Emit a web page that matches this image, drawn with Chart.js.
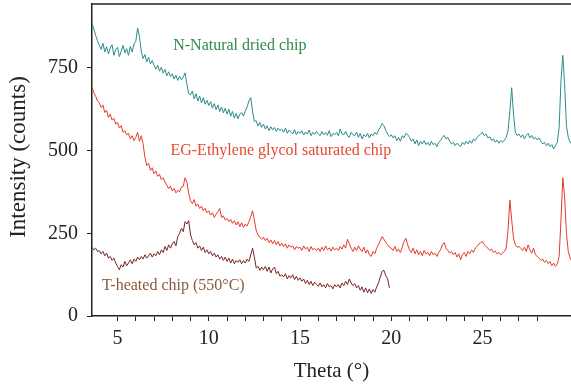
<!DOCTYPE html>
<html>
<head>
<meta charset="utf-8">
<script src="https://cdn.jsdelivr.net/npm/chart.js@4/dist/chart.umd.min.js"></script>
<style>
  html, body { margin: 0; padding: 0; background: #ffffff; }
  canvas { display: block; }
</style>
</head>
<body>
<canvas id="xrd" width="571" height="385"></canvas>
<script>
// Scan grid: 2θ from 3.6° in 0.1° steps
const thetaStart = 3.6;
const thetaStep = 0.1;

// N – natural, air-dried chip (counts)
const naturalDried = [
  885, 868, 848, 832,
  818, 806, 824, 798, 814, 792, 810, 820, 788, 805,
  812, 784, 800, 818, 795, 808, 788, 815, 798, 822,
  830, 870, 845, 800, 778, 790, 768, 782, 762, 772,
  758, 746, 758, 740, 752, 734, 745, 726, 738, 724,
  732, 716, 728, 712, 725, 714, 722, 735, 700, 672,
  668, 680, 656, 672, 650, 665, 644, 660, 640, 652,
  636, 648, 628, 642, 624, 638, 618, 632, 614, 628,
  610, 625, 604, 618, 598, 612, 596, 610, 615, 604,
  620, 632, 650, 660, 618, 588, 590, 574, 585, 570,
  580, 565, 575, 560, 572, 562, 570, 558, 568, 560,
  565, 555, 568, 552, 562, 556, 550, 563, 548, 558,
  552, 560, 547, 556, 550, 562, 545, 555, 549, 558,
  550, 545, 558, 548, 555, 546, 560, 542, 552, 548,
  555, 545, 565, 550, 548, 558, 545, 540, 555, 548,
  545, 556, 540, 552, 535, 548, 542, 552, 538, 550,
  545, 555, 548, 562, 570, 582, 575, 560, 550, 542,
  548, 538, 545, 530, 540, 528, 545, 538, 552, 548,
  540, 528, 535, 520, 532, 515, 528, 520, 530, 518,
  525, 515, 528, 518, 522, 512, 525, 530, 540, 546,
  535, 540, 528, 520, 525, 515, 522, 518, 512, 525,
  518, 528, 520, 530, 522, 535, 530, 540, 545, 550,
  555, 545, 550, 538, 542, 530, 535, 525, 532, 522,
  530, 525, 532, 540, 560, 620, 690, 610, 555, 545,
  550, 540, 548, 535, 545, 552, 538, 546, 535, 540,
  532, 538, 528, 520, 525, 515, 522, 512, 518, 505,
  515, 525, 570, 710, 788, 700, 575, 540, 525, 520
];

// EG – ethylene glycol saturated chip (counts)
const glycolSaturated = [
  690, 675, 664, 650,
  645, 630, 638, 615, 622, 600, 610, 592, 598, 580,
  585, 568, 575, 555, 560, 548, 552, 535, 545, 530,
  540, 555, 528, 545, 520, 480, 455, 462, 440, 448,
  430, 438, 422, 428, 412, 418, 405, 395, 385, 392,
  378, 385, 372, 380, 375, 390, 392, 418, 405, 370,
  348, 340, 352, 332, 338, 325, 332, 318, 325, 312,
  318, 305, 312, 298, 308, 315, 325, 298, 302, 290,
  295, 285, 292, 280, 288, 275, 285, 270, 282, 268,
  278, 272, 285, 300, 318, 290, 258, 245, 238, 232,
  238, 228, 235, 222, 230, 218, 228, 215, 225, 212,
  220, 210, 218, 205, 215, 208, 212, 200, 210, 205,
  208, 198, 212, 202, 208, 195, 210, 200, 205, 198,
  205, 195, 208, 198, 212, 200, 206, 196, 208, 200,
  205, 198, 210, 202, 215, 205, 232, 218, 205, 195,
  208, 198, 212, 202, 195, 208, 190, 200, 185, 180,
  195, 188, 205, 215, 228, 240, 232, 222, 215, 208,
  205, 198, 210, 195, 202, 192, 208, 225, 235, 215,
  200, 192, 205, 188, 200, 185, 195, 182, 198, 188,
  192, 182, 195, 185, 190, 180, 192, 200, 215, 222,
  205, 198, 190, 195, 185, 192, 178, 188, 170, 185,
  192, 180, 195, 188, 200, 192, 205, 210, 218, 222,
  225, 215, 210, 205, 198, 202, 192, 196, 188, 192,
  185, 190, 195, 205, 260, 350, 290, 235, 215, 208,
  210, 205, 198, 208, 195, 215, 200, 190, 205, 185,
  180, 175, 168, 172, 162, 168, 158, 165, 152, 160,
  150, 158, 180, 290, 418, 360, 250, 195, 175, 165
];

// T – chip heated to 550 °C (counts), scanned to 19.9°
const heated550 = [
  208, 200, 205, 195,
  198, 188, 195, 182, 190, 175, 180, 168, 175, 160,
  150, 140, 155, 148, 165, 152, 160, 170, 158, 172,
  165, 178, 170, 180, 172, 185, 175, 182, 190, 178,
  188, 182, 195, 185, 200, 192, 210, 198, 215, 205,
  218, 225, 212, 240, 250, 265, 255, 285, 278, 288,
  245, 228, 215, 222, 205, 212, 198, 208, 192, 200,
  188, 195, 182, 190, 178, 185, 172, 180, 168, 178,
  165, 175, 160, 172, 158, 168, 162, 170, 158, 168,
  160, 172, 165, 185, 205, 178, 145, 150, 138, 148,
  140, 150, 135, 148, 130, 142, 148, 128, 135, 120,
  125, 118, 128, 112, 122, 115, 125, 110, 120, 108,
  115, 105, 112, 98, 108, 95, 105, 92, 102, 95,
  90, 100, 88, 95, 85, 98, 88, 92, 82, 95,
  88, 95, 85, 100, 92, 105, 95, 112, 100, 92,
  98, 85, 92, 78, 88, 72, 85, 70, 82, 68,
  80, 72, 88, 100, 118, 135, 138, 122, 112, 85
];

// Axis ticks: every whole degree is marked, every 5° labelled
const thetaTickLabels = [5, 10, 15, 20, 25];
const intensityTicks = [0, 250, 500, 750];

// Series captions: text, colour and anchor (2θ, counts) of the text's left baseline
const seriesCaptions = [
  { text: 'N-Natural dried chip', color: '#2f8a4c', theta: 8.05, counts: 803 },
  { text: 'EG-Ethylene glycol saturated chip', color: '#e8482f', theta: 7.9, counts: 488 },
  { text: 'T-heated chip (550°C)', color: '#8a5a3a', theta: 4.15, counts: 79 }
];

function toPoints(values) {
  return values.map((v, i) => ({ x: +(thetaStart + i * thetaStep).toFixed(2), y: v }));
}

const serif = '"Liberation Serif", "DejaVu Serif", serif';
const axisColor = '#222222';

// Closing line along the top of the plot area
const topFrame = {
  id: 'topFrame',
  afterDraw(chart) {
    const { ctx, chartArea: a } = chart;
    ctx.save();
    ctx.strokeStyle = axisColor;
    ctx.lineWidth = 1.5;
    ctx.beginPath();
    ctx.moveTo(a.left, a.top);
    ctx.lineTo(a.right, a.top);
    ctx.stroke();
    ctx.restore();
  }
};

// Series captions plus the vertical axis title
const captions = {
  id: 'captions',
  afterDatasetsDraw(chart) {
    const { ctx, scales } = chart;
    ctx.save();
    ctx.font = '16px ' + serif;
    ctx.textAlign = 'left';
    ctx.textBaseline = 'alphabetic';
    seriesCaptions.forEach(c => {
      ctx.fillStyle = c.color;
      ctx.fillText(c.text, scales.x.getPixelForValue(c.theta), scales.y.getPixelForValue(c.counts));
    });
    ctx.restore();

    ctx.save();
    ctx.font = '23px ' + serif;
    ctx.fillStyle = axisColor;
    ctx.textAlign = 'center';
    ctx.textBaseline = 'middle';
    ctx.translate(19, 157);
    ctx.rotate(-Math.PI / 2);
    ctx.fillText('Intensity (counts)', 0, 0);
    ctx.restore();
  }
};

new Chart(document.getElementById('xrd'), {
  type: 'line',
  data: {
    datasets: [
      { label: 'N-Natural dried chip', data: toPoints(naturalDried), borderColor: '#2a8c8a', borderWidth: 1, pointRadius: 0, tension: 0 },
      { label: 'EG-Ethylene glycol saturated chip', data: toPoints(glycolSaturated), borderColor: '#e8392a', borderWidth: 1, pointRadius: 0, tension: 0 },
      { label: 'T-heated chip (550°C)', data: toPoints(heated550), borderColor: '#7a2222', borderWidth: 1, pointRadius: 0, tension: 0 }
    ]
  },
  options: {
    responsive: false,
    animation: false,
    events: [],
    layout: { padding: { top: 4, right: 0, bottom: 0, left: 0 } },
    plugins: { legend: { display: false }, tooltip: { enabled: false } },
    scales: {
      x: {
        type: 'linear',
        min: 3.6,
        max: 29.85,
        border: { display: true, color: axisColor, width: 1.5 },
        grid: { display: true, drawOnChartArea: false, drawTicks: true, tickLength: 5, tickColor: axisColor, tickWidth: 1 },
        ticks: {
          stepSize: 1,
          autoSkip: false,
          maxRotation: 0,
          padding: 6,
          color: axisColor,
          font: { family: serif, size: 20 },
          callback: v => thetaTickLabels.includes(v) ? String(v) : ''
        },
        afterBuildTicks: s => { s.ticks = s.ticks.filter(t => Math.abs(t.value - Math.round(t.value)) < 1e-9); },
        afterFit: s => { s.height = 69; s.paddingLeft = 0; s.paddingRight = 0; },
        title: { display: true, text: 'Theta (°)', color: axisColor, font: { family: serif, size: 21 }, padding: { top: 1, bottom: 1 } }
      },
      y: {
        min: 0,
        max: 943,
        border: { display: true, color: axisColor, width: 1.5 },
        grid: { display: true, drawOnChartArea: false, drawTicks: true, tickLength: 5, tickColor: axisColor, tickWidth: 1 },
        ticks: {
          autoSkip: false,
          padding: 9,
          color: axisColor,
          font: { family: serif, size: 20 },
          callback: v => String(v)
        },
        afterBuildTicks: s => { s.ticks = intensityTicks.map(v => ({ value: v })); },
        afterFit: s => { s.width = 92; s.paddingTop = 0; s.paddingBottom = 0; }
      }
    }
  },
  plugins: [topFrame, captions]
});
</script>
</body>
</html>
